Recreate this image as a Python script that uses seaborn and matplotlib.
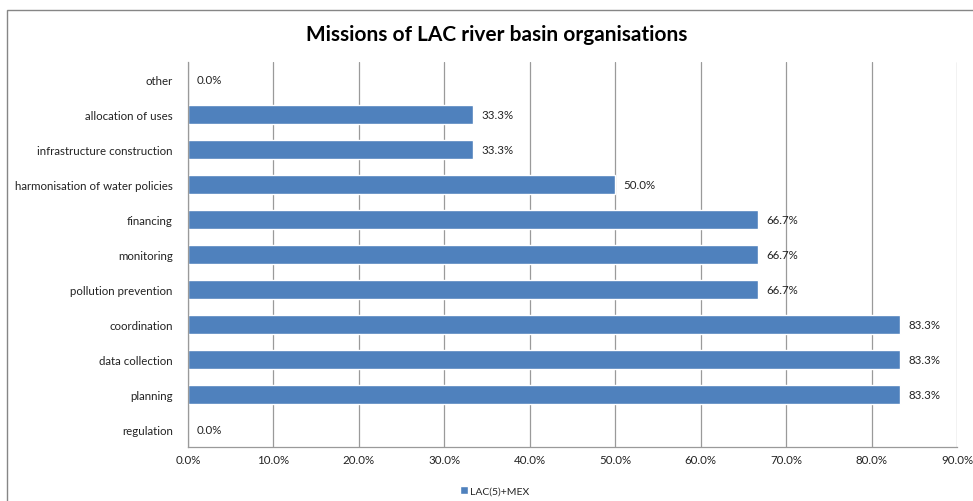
import matplotlib
matplotlib.use('Agg')
import matplotlib.pyplot as plt
import seaborn as sns
import pandas as pd
from matplotlib.patches import Rectangle
from matplotlib.ticker import FuncFormatter, MultipleLocator

# dados (de cima para baixo)
missoes = ['other', 'allocation of uses', 'infrastructure construction',
           'harmonisation of water policies', 'financing', 'monitoring',
           'pollution prevention', 'coordination', 'data collection',
           'planning', 'regulation']
percentuais = [0.0, 33.3, 33.3, 50.0, 66.7, 66.7, 66.7, 83.3, 83.3, 83.3, 0.0]
serie = 'LAC(5)+MEX'

df = pd.DataFrame({'missao': missoes, 'pct': percentuais, 'serie': serie})

sns.set_style('white')
plt.rcParams['font.family'] = ['Lato', 'DejaVu Sans']

fig = plt.figure(figsize=(9.73, 5.02), dpi=100)
ax = fig.add_axes([188/973, 54/502, (957-188)/973, (448-63)/502])

sns.barplot(data=df, x='pct', y='missao', hue='serie', orient='h',
            palette=['#4F81BD'], saturation=1, width=0.55, ax=ax, legend=True)

ax.set_xlim(0, 90)
ax.xaxis.set_major_locator(MultipleLocator(10))
ax.xaxis.set_major_formatter(FuncFormatter(lambda v, p: f'{v:.1f}%'))
ax.grid(axis='x', color='#9A9A9A', linewidth=0.9)
ax.set_axisbelow(True)
ax.set_xlabel('')
ax.set_ylabel('')
ax.tick_params(axis='both', length=0, labelsize=8.3, colors='#222222')
ax.tick_params(axis='x', pad=5)
ax.tick_params(axis='y', pad=11)
for s in ['top', 'right']:
    ax.spines[s].set_visible(False)
for s in ['left', 'bottom']:
    ax.spines[s].set_color('#9A9A9A')
    ax.spines[s].set_linewidth(0.9)

# rótulos das barras
for i, v in enumerate(percentuais):
    ax.text(v + 1.0, i, f'{v:.1f}%', va='center', ha='left', fontsize=8.3, color='#222222')

# legenda embaixo
leg = ax.legend(loc='center', bbox_to_anchor=(0.399, -0.114), frameon=False,
                fontsize=7.5, handlelength=0.8, handleheight=0.8, handletextpad=0.2,
                borderpad=0)

fig.text(497/973, 1 - 35/502, 'Missions of LAC river basin organisations',
         ha='center', va='center', fontsize=15, fontweight='bold', color='black')

# moldura externa do gráfico
fig.patches.append(Rectangle((7/973, -0.2), 1.2, 1 - 11/502 + 0.2, transform=fig.transFigure,
                             fill=False, edgecolor='#868686', linewidth=1.0, clip_on=False))

fig.savefig('out.png', dpi=100)
